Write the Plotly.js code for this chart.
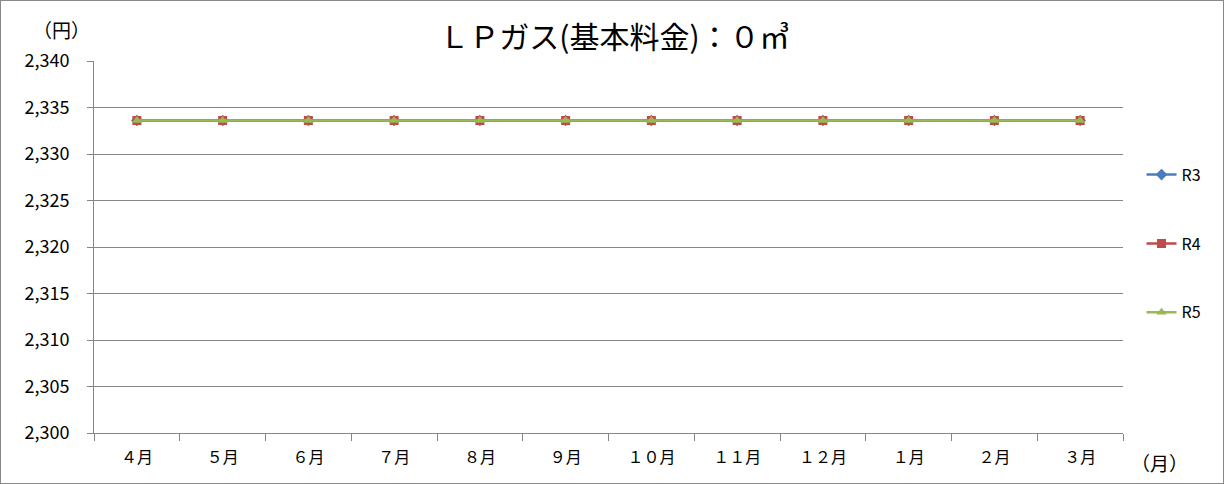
<!DOCTYPE html>
<html><head><meta charset="utf-8">
<script src="https://cdn.plot.ly/plotly-3.0.1.min.js"></script>
<style>body{margin:0;background:#fff}#c{width:1222px;height:482px;border:1px solid #898989}</style>
</head><body><div id="c"></div>
<script>
const months = ["４月","５月","６月","７月","８月","９月","１０月","１１月","１２月","１月","２月","３月"];
const r3 = [2333.6,2333.6,2333.6,2333.6,2333.6,2333.6,2333.6,2333.6,2333.6,2333.6,2333.6,2333.6];
const r4 = [2333.6,2333.6,2333.6,2333.6,2333.6,2333.6,2333.6,2333.6,2333.6,2333.6,2333.6,2333.6];
const r5 = [2333.6,2333.6,2333.6,2333.6,2333.6,2333.6,2333.6,2333.6,2333.6,2333.6,2333.6,2333.6];
const yTicks = [2300,2305,2310,2315,2320,2325,2330,2335,2340];
const yTickText = ["2,300","2,305","2,310","2,315","2,320","2,325","2,330","2,335","2,340"];
const F = "Noto Sans CJK JP, Noto Sans, sans-serif";
const traces = [
 {x:months,y:r3,name:"R3",mode:"lines+markers",legendgroup:"a",line:{color:"#4a7ebb",width:2.5},marker:{symbol:"diamond",size:9,color:"#4a7ebb"}},
 {x:months,y:r4,name:"R4",mode:"lines+markers",legendgroup:"b",line:{color:"#be4b48",width:2.5},marker:{symbol:"square",size:9,color:"#be4b48"}},
 {x:months,y:r5,name:"R5",mode:"lines+markers",legendgroup:"c",line:{color:"#98b954",width:2.5},marker:{symbol:"triangle-up",size:9,color:"#98b954"}}
];
const layout = {
 width:1222,height:482,
 margin:{l:93,r:100,t:60,b:50},
 paper_bgcolor:"#fff",plot_bgcolor:"#fff",
 font:{family:F,color:"#000",size:16},
 title:{text:"ＬＰガス(基本料金)：０㎥",font:{family:F,size:30,color:"#000"},x:0.502,xanchor:"center",y:0.925,yanchor:"middle",yref:"container"},
 showlegend:true,
 legend:{x:1.018,y:0.74,xanchor:"left",yanchor:"top",traceorder:"grouped",tracegroupgap:45,font:{family:F,size:16},bgcolor:"rgba(0,0,0,0)"},
 xaxis:{type:"category",range:[-0.5,11.5],tickson:"boundaries",ticks:"outside",ticklen:7,tickcolor:"#868686",showgrid:false,showline:true,linecolor:"#868686",linewidth:1,ticklabelstandoff:10,tickfont:{family:F,size:16},zeroline:false,fixedrange:true},
 yaxis:{range:[2300,2340],tickmode:"array",tickvals:yTicks,ticktext:yTickText,ticks:"outside",ticklen:6,tickcolor:"#868686",showgrid:true,gridcolor:"#868686",gridwidth:1,showline:true,linecolor:"#868686",linewidth:1,ticklabelstandoff:14,tickfont:{family:F,size:18},zeroline:false,fixedrange:true},
 annotations:[
  {text:"（円）",xref:"paper",yref:"paper",x:-0.032,y:1.085,xanchor:"center",yanchor:"middle",showarrow:false,font:{family:F,size:19,color:"#000"}},
  {text:"（月）",xref:"paper",yref:"paper",x:1.035,y:-0.08,xanchor:"center",yanchor:"middle",showarrow:false,font:{family:F,size:19,color:"#000"}}
 ]
};
Plotly.newPlot("c",traces,layout,{displayModeBar:false,staticPlot:true});
</script></body></html>
